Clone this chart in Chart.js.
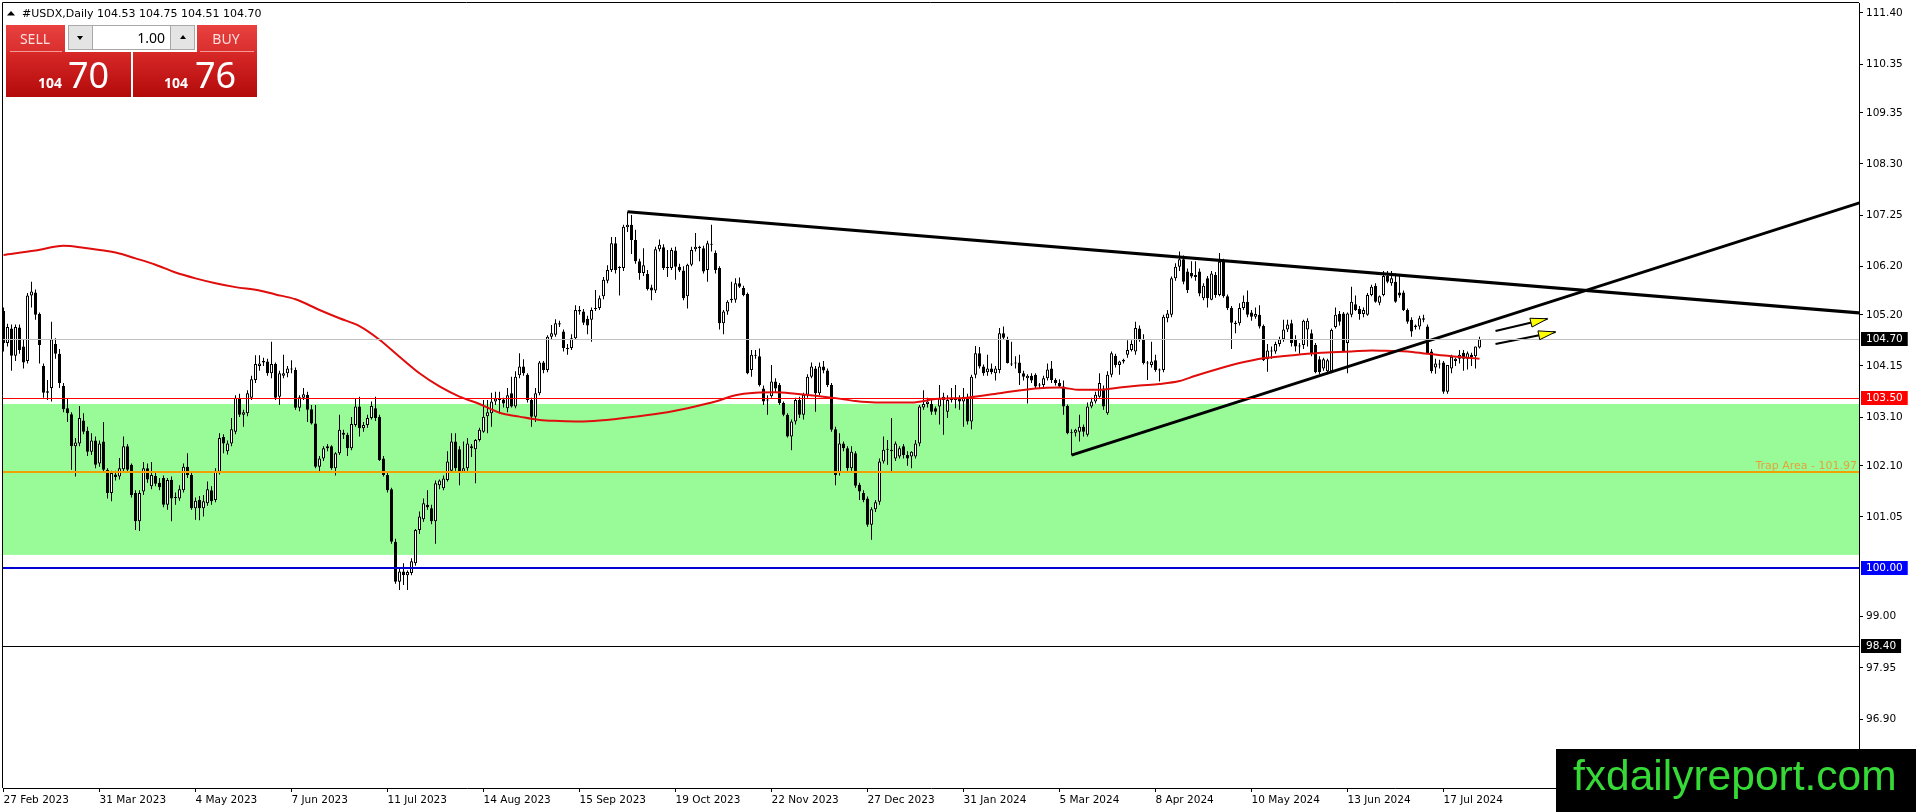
<!DOCTYPE html>
<html>
<head>
<meta charset="utf-8">
<script src="https://cdn.jsdelivr.net/npm/chart.js@4.4.1/dist/chart.umd.min.js"></script>
<style>
	html, body { margin: 0; padding: 0; background: #fff; overflow: hidden; }
	#usdx-chart { display: block; }
</style>
</head>
<body>
<canvas id="usdx-chart" width="1916" height="812"></canvas>
<script>
const opens = [
	105.28,104.62,104.92,104.36,104.94,104.55,104.25,105.60,105.66,105.22,
	104.15,103.60,103.70,104.60,104.40,103.74,103.28,103.16,102.50,102.56,
	103.03,102.82,102.39,102.62,102.15,102.60,102.02,101.54,101.92,101.88,
	102.03,102.50,102.12,101.54,100.96,101.57,102.05,101.68,101.89,101.75,
	101.85,101.30,101.81,101.44,101.43,101.60,102.08,101.91,101.23,101.40,
	101.23,101.33,101.60,101.40,101.98,102.69,102.40,102.56,102.80,103.50,
	103.15,103.18,103.50,103.86,104.15,104.22,104.24,104.00,104.19,103.52,
	103.95,104.00,104.08,104.07,103.29,103.50,103.56,103.26,102.97,102.08,
	102.25,102.46,102.50,102.05,102.36,102.78,102.74,102.46,102.94,103.32,
	102.87,102.94,103.08,103.28,103.11,102.25,101.91,101.62,100.54,99.72,
	99.93,99.85,99.90,100.10,100.78,101.00,101.30,101.23,100.96,101.70,
	101.64,101.81,102.00,102.60,102.44,101.98,102.05,102.50,102.44,102.63,
	102.80,103.12,103.18,103.42,103.45,103.46,103.28,103.59,103.32,103.96,
	104.14,103.97,103.45,103.11,103.59,104.22,104.07,104.75,104.79,105.03,
	104.86,104.52,104.52,104.72,105.30,105.27,105.12,105.10,105.32,105.34,
	105.58,105.90,106.12,106.67,106.16,106.16,107.00,107.05,106.74,106.30,
	106.06,106.04,105.76,105.70,106.55,106.59,106.16,106.16,106.52,106.19,
	106.11,105.58,106.23,106.55,106.57,106.57,106.12,106.64,106.47,106.16,
	105.03,105.27,105.50,105.51,105.85,105.75,105.63,104.07,104.38,104.35,
	103.69,103.45,103.53,103.83,103.76,103.39,103.15,102.70,103.01,103.45,
	103.15,103.56,103.93,104.10,103.59,104.14,104.06,103.76,102.85,101.95,
	102.56,102.46,102.05,102.36,101.71,101.54,101.43,100.89,101.21,101.36,
	102.19,102.43,102.43,102.25,102.29,102.50,102.32,102.29,102.29,102.56,
	103.30,103.37,103.37,103.28,103.32,103.45,103.21,103.45,103.45,103.50,
	103.42,103.52,103.01,103.97,104.41,104.14,104.02,104.10,104.00,104.07,
	104.82,104.69,104.20,104.20,104.22,104.00,103.90,103.95,103.97,103.75,
	103.76,103.90,104.10,103.86,103.80,103.73,103.33,102.77,102.78,102.80,
	102.90,102.74,103.32,103.42,103.52,103.69,103.18,103.97,104.36,104.17,
	104.24,104.38,104.48,104.45,104.92,104.69,104.21,104.17,104.27,104.07,
	104.07,105.13,105.20,105.95,106.19,106.34,106.09,106.06,105.98,106.09,
	105.54,105.95,105.51,106.02,105.61,106.29,105.58,105.34,105.04,105.03,
	105.34,105.47,105.25,105.16,105.20,104.97,104.29,104.45,104.45,104.60,
	104.70,104.90,105.03,104.70,104.55,104.58,104.90,104.82,104.58,104.29,
	104.10,104.04,104.04,104.95,105.22,105.23,104.62,105.20,105.42,105.32,
	105.22,105.20,105.61,105.80,105.45,105.61,106.00,105.85,105.88,105.66,
	105.66,105.30,105.10,104.98,104.96,105.13,104.96,104.45,104.12,104.20,
	104.22,103.62,104.10,104.25,104.30,104.42,104.30,104.38,104.35,104.53
];
const highs = [
	105.35,105.02,105.00,105.00,105.00,104.70,105.65,105.88,105.72,105.25,
	104.20,103.86,105.06,104.72,104.50,103.80,103.49,103.20,102.67,103.33,
	103.18,102.90,102.77,102.70,102.62,103.00,102.05,102.00,102.00,102.26,
	102.70,102.55,102.15,101.60,101.60,102.18,102.15,102.18,101.98,101.85,
	101.90,101.85,101.88,101.55,101.70,102.15,102.36,101.98,101.45,101.48,
	101.50,101.78,101.68,102.05,102.77,102.75,102.62,103.08,103.55,103.58,
	103.25,103.65,103.95,104.37,104.37,104.32,104.30,104.65,104.22,104.05,
	104.38,104.15,104.27,104.12,103.55,103.70,103.62,103.35,103.35,102.30,
	102.50,102.55,102.52,102.38,103.15,102.84,102.78,103.10,103.49,103.52,
	103.00,103.15,103.42,103.52,103.15,102.30,101.95,101.65,100.60,100.00,
	100.10,99.95,100.20,100.80,101.16,101.43,101.60,101.30,101.80,101.82,
	101.90,102.40,102.77,102.77,102.50,102.60,102.67,102.55,102.65,102.88,
	103.45,103.45,103.60,103.62,103.62,103.50,103.70,103.93,104.04,104.41,
	104.29,104.00,103.50,103.70,104.25,104.25,104.78,104.99,105.11,105.08,
	104.90,104.60,104.80,105.40,105.38,105.32,105.18,105.35,105.71,105.60,
	105.98,106.22,106.80,106.80,106.20,107.05,107.32,107.25,106.95,106.35,
	106.57,106.12,105.82,106.60,106.75,106.65,106.53,106.58,106.60,106.25,
	106.20,106.25,106.60,106.88,106.62,106.62,106.72,107.05,106.52,106.20,
	105.30,105.50,105.88,105.95,105.97,105.80,105.66,104.48,104.48,104.51,
	103.75,103.55,104.17,103.90,103.80,103.42,103.18,103.05,103.50,103.52,
	103.60,103.98,104.22,104.15,104.22,104.25,104.10,103.80,102.90,102.77,
	102.60,102.50,102.50,102.40,101.75,101.60,101.47,101.25,101.40,102.25,
	102.70,102.63,103.08,102.60,102.50,102.55,102.40,102.40,102.63,103.35,
	103.65,103.50,103.45,103.32,103.76,103.60,103.55,103.70,103.76,103.55,
	103.70,103.58,103.97,104.56,104.54,104.18,104.38,104.20,104.15,104.93,
	104.96,104.75,104.65,104.35,104.38,104.05,103.98,104.00,104.00,103.80,
	103.95,104.20,104.25,103.90,103.88,103.85,103.36,102.85,102.86,103.15,
	102.95,103.40,103.50,103.62,104.00,103.75,104.04,104.45,104.40,104.26,
	104.30,104.68,104.68,105.06,104.98,104.80,104.25,104.65,104.38,104.10,
	105.20,105.30,105.99,106.26,106.50,106.42,106.15,106.30,106.30,106.15,
	105.85,106.00,106.10,106.08,106.47,106.35,105.62,105.38,105.08,105.44,
	105.60,105.70,105.30,105.35,105.40,105.00,104.60,104.55,104.65,104.75,
	105.10,105.10,105.10,104.78,104.62,105.10,105.13,104.90,104.62,104.35,
	104.32,104.30,104.92,105.35,105.28,105.26,105.25,105.78,105.60,105.38,
	105.35,105.65,105.82,105.85,105.60,106.10,106.10,106.10,106.05,106.00,
	105.70,105.33,105.15,105.00,105.18,105.20,105.00,104.50,104.30,104.28,
	104.25,104.17,104.38,104.32,104.48,104.48,104.45,104.42,104.55,104.75
];
const lows = [
	104.45,104.55,104.05,104.25,104.40,104.10,104.20,105.35,105.10,104.20,
	103.50,103.45,103.42,104.30,103.70,103.20,103.00,102.02,101.88,102.50,
	102.75,102.30,102.32,102.05,102.08,101.98,101.43,101.37,101.80,101.82,
	101.98,101.95,101.45,100.78,100.76,101.50,101.75,101.62,101.68,101.60,
	101.25,101.20,100.96,101.30,101.38,101.55,101.85,101.20,100.99,100.98,
	101.06,101.28,101.30,101.35,101.92,102.36,102.33,102.50,102.75,103.10,
	102.90,103.12,103.45,103.80,104.05,104.15,103.95,103.90,103.45,103.35,
	103.90,103.92,104.00,103.25,103.22,103.45,103.00,102.95,102.05,101.98,
	102.20,102.40,102.02,101.90,102.32,102.65,102.30,102.42,102.90,102.70,
	102.80,102.88,103.05,103.02,102.20,101.88,101.55,100.50,99.68,99.55,
	99.65,99.55,99.85,100.05,100.70,100.95,101.20,100.90,100.50,101.62,
	101.60,101.78,101.95,102.00,101.70,101.95,102.00,102.28,101.74,102.60,
	102.78,102.77,102.90,103.35,103.18,103.30,103.20,103.30,103.28,103.90,
	103.95,103.40,102.90,103.00,103.55,104.00,104.02,104.70,104.75,104.95,
	104.45,104.38,104.48,104.70,105.20,104.99,104.80,104.65,105.28,105.30,
	105.52,105.85,106.08,106.05,105.60,106.10,106.90,106.45,106.25,105.92,
	106.00,105.70,105.50,105.65,106.50,106.12,105.98,106.12,105.92,106.08,
	105.50,105.33,106.20,106.50,106.30,106.05,105.88,106.50,106.05,104.90,
	104.80,105.20,105.45,105.45,105.75,105.58,103.98,103.93,104.30,103.73,
	103.35,103.15,103.50,103.60,103.35,103.12,102.68,102.42,102.95,103.08,
	103.05,103.50,103.90,103.21,103.55,104.00,103.72,102.80,101.70,101.90,
	102.40,102.00,102.00,101.65,101.40,101.35,100.85,100.58,101.15,101.30,
	102.15,102.12,101.95,102.20,102.25,102.25,102.10,102.05,102.25,102.50,
	103.25,103.30,103.15,103.15,102.95,102.74,103.08,103.40,103.28,103.25,
	102.90,102.95,102.85,103.90,104.10,103.95,103.95,103.98,103.85,104.00,
	104.70,104.20,104.15,104.10,103.76,103.85,103.38,103.80,103.70,103.68,
	103.70,103.85,103.80,103.75,103.70,103.15,102.75,102.32,102.70,102.60,
	102.70,102.70,103.28,103.38,103.50,103.25,103.15,103.92,104.12,103.97,
	104.20,104.32,104.45,104.38,104.65,104.18,103.86,104.12,104.03,103.83,
	104.02,105.05,105.15,105.90,106.10,105.83,105.65,105.95,105.90,105.58,
	105.50,105.35,105.50,105.55,105.58,105.55,105.30,104.50,104.82,104.98,
	105.30,105.15,105.08,105.12,104.92,104.25,104.03,104.30,104.40,104.55,
	104.65,104.85,104.55,104.45,104.40,104.50,104.55,104.35,104.00,103.98,
	104.05,103.98,104.00,104.92,104.98,104.45,104.00,105.15,105.28,105.10,
	105.15,105.18,105.58,105.45,105.40,105.58,105.85,105.80,105.45,105.55,
	105.28,105.02,104.75,104.90,104.90,105.05,104.40,104.00,103.99,104.10,
	103.58,103.58,104.00,104.15,104.20,104.05,104.08,104.15,104.10,104.51
];
const closes = [
	104.62,104.95,104.36,104.95,104.48,104.22,105.60,105.68,105.20,104.58,
	103.60,103.63,104.70,104.40,103.80,103.26,103.18,102.50,102.58,103.08,
	102.80,102.39,102.62,102.12,102.56,102.02,101.54,101.95,101.87,102.05,
	102.50,102.02,101.50,100.96,101.54,102.05,101.82,101.91,101.73,101.66,
	101.30,101.81,101.43,101.46,101.62,102.08,101.91,101.23,101.38,101.23,
	101.37,101.62,101.37,102.00,102.67,102.56,102.56,102.85,103.50,103.15,
	103.20,103.59,103.88,104.19,104.20,104.25,104.00,104.19,103.50,104.00,
	104.00,104.10,104.10,103.29,103.51,103.57,103.25,102.97,102.08,102.25,
	102.46,102.50,102.05,102.36,102.84,102.74,102.46,102.96,103.32,102.87,
	102.94,103.08,103.33,103.08,102.22,101.91,101.60,100.54,99.72,99.93,
	99.86,99.92,100.14,100.78,101.06,101.33,101.25,100.96,101.74,101.80,
	101.84,102.19,102.60,102.05,101.98,102.05,102.56,102.46,102.63,102.84,
	103.11,103.20,103.42,103.48,103.46,103.38,103.55,103.32,103.93,104.14,
	104.00,103.45,103.11,103.59,104.22,104.07,104.75,104.82,105.03,105.00,
	104.52,104.50,104.72,105.30,105.27,105.04,104.98,105.30,105.34,105.54,
	105.92,106.12,106.67,106.12,106.18,107.01,107.05,106.74,106.30,106.06,
	106.22,105.73,105.70,106.55,106.64,106.16,106.16,106.53,106.19,106.11,
	105.54,106.23,106.53,106.60,106.60,106.09,106.67,106.66,106.12,105.03,
	105.27,105.47,105.53,105.85,105.78,105.61,104.00,104.38,104.36,103.76,
	103.42,103.44,103.83,103.69,103.39,103.15,102.70,103.01,103.45,103.15,
	103.56,103.93,104.14,103.59,104.14,104.06,103.76,102.84,101.91,102.56,
	102.46,102.05,102.39,101.69,101.57,101.40,100.89,101.21,101.35,102.19,
	102.43,102.43,102.40,102.56,102.46,102.32,102.25,102.39,102.56,103.32,
	103.37,103.42,103.21,103.21,103.49,103.52,103.45,103.48,103.47,103.42,
	103.52,103.01,103.93,104.41,104.14,104.00,104.10,104.02,104.10,104.82,
	104.73,104.21,104.18,104.20,104.00,103.93,103.95,103.85,103.73,103.76,
	103.90,104.08,103.86,103.80,103.73,103.32,102.77,102.78,102.84,102.90,
	102.80,103.32,103.42,103.56,103.80,103.32,103.97,104.41,104.17,104.24,
	104.28,104.48,104.60,104.93,104.69,104.21,104.20,104.24,104.07,104.06,
	105.16,105.23,105.95,106.19,106.34,105.88,105.71,105.99,106.02,105.64,
	105.80,105.54,106.05,105.61,106.29,105.58,105.34,105.04,105.01,105.34,
	105.47,105.20,105.16,105.22,104.96,104.27,104.47,104.46,104.60,104.70,
	104.90,105.00,104.62,104.55,104.56,105.08,105.08,104.41,104.02,104.02,
	104.29,104.27,104.89,105.20,105.06,104.45,105.23,105.47,105.30,105.22,
	105.30,105.61,105.78,105.47,105.58,106.00,105.88,105.95,105.47,105.60,
	105.30,105.06,104.86,104.95,105.13,105.10,104.41,104.04,104.20,104.18,
	103.62,104.17,104.34,104.30,104.38,104.30,104.41,104.33,104.55,104.70
];

// 200-day moving average at these bar numbers
const maBars = [0, 8, 15, 20, 28, 33, 38, 43, 48, 53, 58, 64, 68, 73, 79, 84, 89, 94, 99, 104,
	109, 114, 119, 124, 129, 134, 139, 144, 149, 158, 166, 173, 178, 183, 188, 193, 198, 203, 208, 213,
	218, 227, 233, 241, 249, 258, 264, 269, 274, 279, 284, 289, 294, 298, 304, 309, 315, 321, 326, 332,
	337, 342, 347, 351, 356, 361, 366, 369];
const maValues = [106.43, 106.52, 106.62, 106.58, 106.48, 106.36, 106.23, 106.07, 105.95, 105.85,
	105.77, 105.70, 105.62, 105.52, 105.30, 105.13, 104.97, 104.69, 104.34, 104.00,
	103.73, 103.52, 103.37, 103.19, 103.11, 103.04, 103.02, 103.01, 103.03, 103.11,
	103.20, 103.32, 103.42, 103.55, 103.60, 103.61, 103.58, 103.54, 103.49, 103.43,
	103.40, 103.40, 103.47, 103.50, 103.59, 103.69, 103.71, 103.66, 103.66, 103.71,
	103.75, 103.78, 103.84, 103.95, 104.10, 104.21, 104.31, 104.36, 104.40, 104.43,
	104.45, 104.47, 104.46, 104.45, 104.40, 104.36, 104.32, 104.30];

const dateLabels = ["27 Feb 2023", "31 Mar 2023", "4 May 2023", "7 Jun 2023", "11 Jul 2023", "14 Aug 2023",
	"15 Sep 2023", "19 Oct 2023", "22 Nov 2023", "27 Dec 2023", "31 Jan 2024", "5 Mar 2024",
	"8 Apr 2024", "10 May 2024", "13 Jun 2024", "17 Jul 2024"];
const labelBars = [0, 24, 48, 72, 96, 120, 144, 168, 192, 216, 240, 264, 288, 312, 336, 360];
const priceTicks = [111.40, 110.35, 109.35, 108.30, 107.25, 106.20, 105.20, 104.15, 103.10, 102.10, 101.05, 99.00, 97.95, 96.90];

const resistanceBars = [156, 464];
const resistanceValues = [107.32, 105.24];
const supportBars = [267, 464];
const supportValues = [102.32, 107.50];

const arrowStartBars = [373, 373];
const arrowStartValues = [104.87, 104.60];
const arrowEndBars = [386, 388];
const arrowEndValues = [105.12, 104.85];

const zoneRange = [100.27, 103.37];
const levelValues = [104.70, 103.50, 101.97, 100.00, 98.40];
const trapLabel = "Trap Area - 101.97";
const askPrice = 104.76;
const symbolName = "#USDX,Daily";

const xMin = -0.125, xMax = 463.875;
const yMin = 95.483, yMax = 111.605;

const levelStyles = [
	{ color: "#c0c0c0", width: 1, tag: "#000000" },
	{ color: "#ff0000", width: 1, tag: "#ff0000" },
	{ color: "#f2a000", width: 2, tag: null },
	{ color: "#0000d0", width: 2, tag: "#0000ff" },
	{ color: "#000000", width: 1, tag: "#000000" },
];

const axisFont = { family: "DejaVu Sans", size: 10.5 };
const last = closes.length - 1;

const wickData = closes.map((c, i) => ({ x: i, y: [lows[i], highs[i]] }));
const bodyData = closes.map((c, i) => ({ x: i, y: [opens[i], c] }));
const maData = maBars.map((b, k) => ({ x: b, y: maValues[k] }));
const lineData = (xs, ys) => xs.map((x, k) => ({ x, y: ys[k] }));

const drawArrowHead = (ctx, x0, y0, x1, y1) => {
	const ang = Math.atan2(y1 - y0, x1 - x0);
	const len = 17, half = 4.5;
	const bx = x1 - len * Math.cos(ang), by = y1 - len * Math.sin(ang);
	const nx = -Math.sin(ang) * half, ny = Math.cos(ang) * half;
	ctx.beginPath();
	ctx.moveTo(x1, y1);
	ctx.lineTo(bx + nx, by + ny);
	ctx.lineTo(bx - nx, by - ny);
	ctx.closePath();
	ctx.fillStyle = "#ffff00";
	ctx.fill();
	ctx.lineWidth = 1;
	ctx.strokeStyle = "#000";
	ctx.stroke();
};

const drawTradePanel = (ctx) => {
	const head = ctx.createLinearGradient(0, 25, 0, 52);
	head.addColorStop(0, "#e8413f");
	head.addColorStop(1, "#d92f2e");
	const body = ctx.createLinearGradient(0, 52, 0, 97);
	body.addColorStop(0, "#d82828");
	body.addColorStop(1, "#b30a0a");

	ctx.fillStyle = head;
	ctx.fillRect(6, 25, 59, 27);
	ctx.fillRect(197, 25, 60, 27);
	ctx.fillStyle = body;
	ctx.fillRect(6, 52, 125, 45);
	ctx.fillRect(133, 52, 124, 45);

	ctx.fillStyle = "rgba(255,190,190,0.75)";
	ctx.fillRect(10, 51, 52, 1);
	ctx.fillRect(200, 51, 54, 1);

	// lot size box
	ctx.fillStyle = "#fff";
	ctx.fillRect(68, 25, 127, 25);
	ctx.fillStyle = "#e4e4e4";
	ctx.fillRect(68, 25, 24, 25);
	ctx.fillRect(171, 25, 24, 25);
	ctx.strokeStyle = "#a8a8a8";
	ctx.lineWidth = 1;
	ctx.strokeRect(68.5, 25.5, 126, 24);
	ctx.beginPath();
	ctx.moveTo(92.5, 25); ctx.lineTo(92.5, 50);
	ctx.moveTo(170.5, 25); ctx.lineTo(170.5, 50);
	ctx.stroke();
	ctx.fillStyle = "#000";
	ctx.beginPath();
	ctx.moveTo(77, 36); ctx.lineTo(83, 36); ctx.lineTo(80, 40); ctx.closePath();
	ctx.moveTo(180, 39); ctx.lineTo(186, 39); ctx.lineTo(183, 35); ctx.closePath();
	ctx.fill();
	ctx.font = "14px 'Noto Sans'";
	ctx.textAlign = "right";
	ctx.textBaseline = "alphabetic";
	ctx.fillText("1.00", 165, 43);

	ctx.textAlign = "center";
	ctx.fillStyle = "#ffdede";
	ctx.fillText("SELL", 35, 44);
	ctx.fillText("BUY", 226, 44);

	const bid = closes[last];
	const parts = [bid, askPrice].map((p) => [Math.floor(p).toString(), p.toFixed(2).split(".")[1]]);
	ctx.fillStyle = "#fff";
	ctx.textAlign = "left";
	[[38, 68], [164, 195]].forEach(([sx, bx], k) => {
		ctx.font = "bold 14px 'Noto Sans'";
		ctx.fillText(parts[k][0], sx, 88);
		ctx.font = "36px 'Noto Sans'";
		ctx.fillText(parts[k][1], bx, 88);
	});
};

const overlayPlugin = {
	id: "overlay",
	beforeDatasetsDraw(chart) {
		const { ctx, chartArea: a, scales: { y } } = chart;
		const top = y.getPixelForValue(zoneRange[1]);
		const bottom = y.getPixelForValue(zoneRange[0]);
		ctx.save();
		ctx.fillStyle = "#98fb98";
		ctx.fillRect(a.left, top, a.right - a.left, bottom - top);
		ctx.restore();
	},
	afterDatasetsDraw(chart) {
		const { ctx, chartArea: a, scales: { x, y } } = chart;
		ctx.save();
		ctx.beginPath();
		ctx.rect(a.left, a.top, a.right - a.left, a.bottom - a.top);
		ctx.clip();
		levelValues.forEach((v, k) => {
			const st = levelStyles[k];
			const py = Math.round(y.getPixelForValue(v)) + (st.width % 2 ? 0.5 : 0);
			ctx.strokeStyle = st.color;
			ctx.lineWidth = st.width;
			ctx.beginPath();
			ctx.moveTo(a.left, py);
			ctx.lineTo(a.right, py);
			ctx.stroke();
		});
		const trapY = y.getPixelForValue(levelValues[2]);
		ctx.font = "11px 'DejaVu Sans'";
		ctx.fillStyle = "#e2a43a";
		ctx.textAlign = "right";
		ctx.textBaseline = "alphabetic";
		ctx.fillText(trapLabel, a.right - 2, trapY - 3);

		arrowEndBars.forEach((b, k) => {
			drawArrowHead(ctx,
				x.getPixelForValue(arrowStartBars[k]), y.getPixelForValue(arrowStartValues[k]),
				x.getPixelForValue(b), y.getPixelForValue(arrowEndValues[k]));
		});
		ctx.restore();
	},
	afterDraw(chart) {
		const { ctx, chartArea: a, scales: { y } } = chart;
		ctx.save();
		// frame
		ctx.strokeStyle = "#000";
		ctx.lineWidth = 1;
		ctx.beginPath();
		ctx.moveTo(2.5, a.bottom);
		ctx.lineTo(2.5, 2.5);
		ctx.lineTo(a.right, 2.5);
		ctx.stroke();

		// price tags on the right axis
		ctx.font = "10.5px 'DejaVu Sans'";
		ctx.textAlign = "left";
		ctx.textBaseline = "middle";
		levelValues.forEach((v, k) => {
			const st = levelStyles[k];
			if (!st.tag) return;
			const py = Math.round(y.getPixelForValue(v));
			const txt = v.toFixed(2);
			const w = ctx.measureText(txt).width;
			ctx.fillStyle = st.tag;
			ctx.fillRect(a.right + 2, py - 7, w + 10, 14);
			ctx.fillStyle = "#fff";
			ctx.fillText(txt, a.right + 7, py + 0.5);
		});

		// title
		ctx.fillStyle = "#000";
		ctx.beginPath();
		ctx.moveTo(7, 15.5); ctx.lineTo(11, 11); ctx.lineTo(15, 15.5); ctx.closePath();
		ctx.fill();
		ctx.font = "11px 'DejaVu Sans'";
		ctx.textBaseline = "alphabetic";
		ctx.fillText(symbolName, 22, 17);
		const ohlc = [opens[last], highs[last], lows[last], closes[last]].map((v) => v.toFixed(2)).join(" ");
		ctx.fillText(ohlc, 97, 17);

		drawTradePanel(ctx);

		// watermark box
		ctx.fillStyle = "#000";
		ctx.fillRect(1556, 749, 360, 63);
		ctx.fillStyle = "#36d936";
		ctx.font = "42.5px 'Liberation Sans'";
		ctx.textAlign = "left";
		ctx.fillText("fxdailyreport.com", 1573, 790);
		ctx.restore();
	},
};

const usdxCtx = document.getElementById("usdx-chart");

new Chart(usdxCtx, {
	type: "bar",
	data: {
		datasets: [
			{
				label: "wicks",
				data: wickData,
				backgroundColor: "#000",
				barThickness: 1,
				grouped: false,
				inflateAmount: 0,
				order: 10,
				clip: 0,
			},
			{
				label: "bodies",
				data: bodyData,
				backgroundColor: (c) => (closes[c.dataIndex] >= opens[c.dataIndex] ? "#fff" : "#000"),
				borderColor: "#000",
				borderWidth: 1,
				borderSkipped: false,
				barThickness: 3,
				minBarLength: 1,
				grouped: false,
				inflateAmount: 0,
				order: 9,
				clip: 0,
			},
			{
				type: "line",
				label: "MA 200",
				data: maData,
				borderColor: "#e00d0d",
				borderWidth: 2,
				pointRadius: 0,
				cubicInterpolationMode: "monotone",
				order: 5,
				clip: 0,
			},
			{
				type: "line",
				label: "resistance",
				data: lineData(resistanceBars, resistanceValues),
				borderColor: "#000",
				borderWidth: 3,
				pointRadius: 0,
				order: 2,
				clip: 0,
			},
			{
				type: "line",
				label: "support",
				data: lineData(supportBars, supportValues),
				borderColor: "#000",
				borderWidth: 3,
				pointRadius: 0,
				order: 2,
				clip: 0,
			},
			...arrowStartBars.map((b, k) => ({
				type: "line",
				label: "arrow " + k,
				data: lineData([b, arrowEndBars[k]], [arrowStartValues[k], arrowEndValues[k]]),
				borderColor: "#000",
				borderWidth: 2,
				pointRadius: 0,
				order: 1,
				clip: 0,
			})),
		],
	},
	options: {
		responsive: false,
		animation: false,
		events: [],
		layout: { padding: { left: 3, top: 3, right: 0, bottom: 0 } },
		plugins: {
			legend: { display: false },
			tooltip: { enabled: false },
		},
		scales: {
			x: {
				type: "linear",
				min: xMin,
				max: xMax,
				offset: false,
				bounds: "data",
				grid: { display: true, drawOnChartArea: false, drawTicks: true, tickLength: 4, color: "#000", offset: false },
				border: { display: true, color: "#000", width: 1 },
				ticks: {
					autoSkip: false,
					maxRotation: 0,
					minRotation: 0,
					align: "start",
					padding: 2,
					color: "#000",
					font: axisFont,
					callback: (v, k) => dateLabels[k],
				},
				afterBuildTicks: (s) => {
					s.ticks = labelBars.map((b) => ({ value: b }));
				},
				afterFit: (s) => {
					s.height = 24;
					s.paddingLeft = 0;
					s.paddingRight = 0;
				},
			},
			y: {
				type: "linear",
				position: "right",
				min: yMin,
				max: yMax,
				bounds: "data",
				beginAtZero: false,
				grid: { display: true, drawOnChartArea: false, drawTicks: true, tickLength: 4, color: "#000" },
				border: { display: true, color: "#000", width: 1 },
				ticks: {
					padding: 3,
					color: "#000",
					font: axisFont,
					callback: (v) => Number(v).toFixed(2),
				},
				afterBuildTicks: (s) => {
					s.ticks = priceTicks.map((v) => ({ value: v }));
				},
				afterFit: (s) => {
					s.width = 57;
					s.paddingTop = 0;
					s.paddingBottom = 0;
				},
			},
		},
	},
	plugins: [overlayPlugin],
});
</script>
</body>
</html>
